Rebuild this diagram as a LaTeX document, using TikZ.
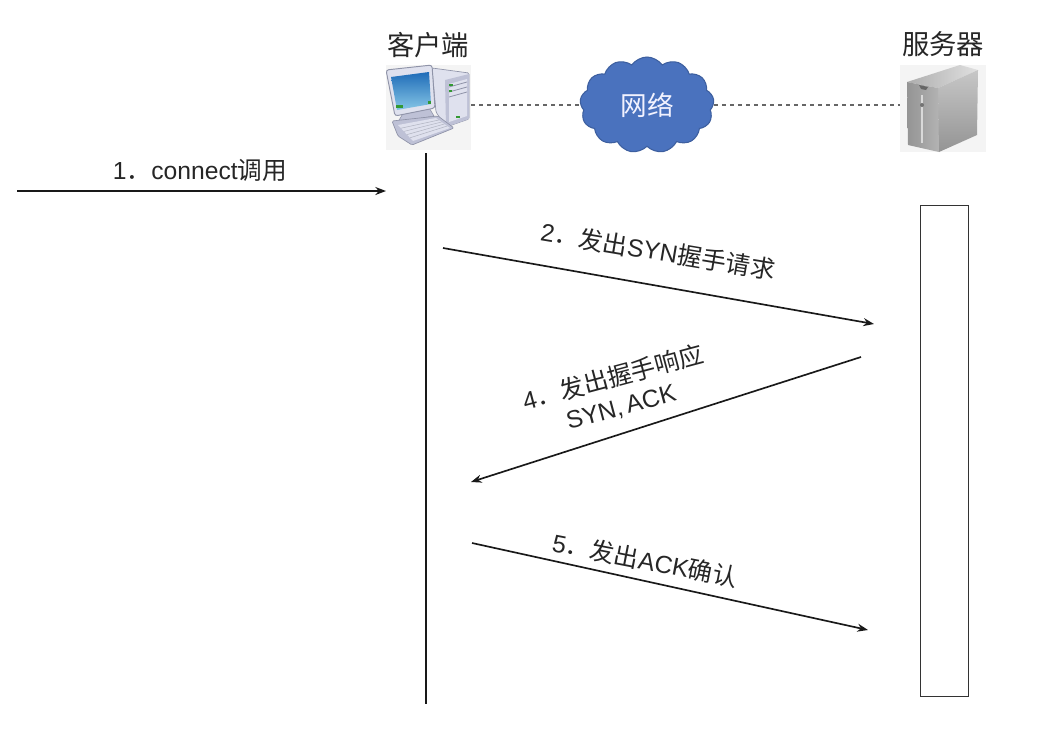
\documentclass[tikz,border=0pt]{standalone}
\usepackage{fontspec}
\setmainfont{Liberation Sans}
\newfontfamily\cjk{Noto Sans CJK SC}
\usetikzlibrary{shapes.symbols,calc,arrows.meta}
\definecolor{cloudblue}{HTML}{4A72BE}
\definecolor{cloudline}{HTML}{3D5F9F}
\definecolor{iconbg}{HTML}{F4F4F4}
\definecolor{caseline}{HTML}{8F93A8}
\definecolor{caselight}{HTML}{DFE1EE}
\definecolor{caseshade}{HTML}{BEC1D6}
\definecolor{screentop}{HTML}{1F6CB8}
\definecolor{screenend}{HTML}{86C6E6}
\begin{document}
\begin{tikzpicture}[x=0.75pt,y=-0.75pt]
    % --- styles ---
    \tikzstyle{msg}=[-{Stealth[length=8pt,width=6pt]}, line width=1.25pt, black!90]
    \tikzstyle{link}=[dashed, line width=1pt, black!60]
    \tikzstyle{title}=[font=\fontsize{20.5}{22}\cjk, text=black!85, inner sep=0pt]
    \tikzstyle{label}=[font=\fontsize{18.5}{22.5}\selectfont, text=black!85, inner sep=0pt, align=center]
    \tikzstyle{iconbox}=[fill=iconbg, draw=none, inner sep=0pt]

    \useasboundingbox (0,0) rectangle (1060,729);

    % ====== client ======
    \node[title] (clienttitle) at (428,45) {客户端};
    \node[iconbox, minimum width=64pt, minimum height=64pt] (client) at (428.5,107.5) {};
    % tower
    \fill[caselight, draw=caseline, line width=0.5pt, rounded corners=1pt] (432,68) -- (469,73) -- (469,119) -- (446,127) -- (436,112) -- cycle;
    \fill[caseshade] (445,80) -- (469,74) -- (469,119) -- (446,127) -- cycle;
    \fill[caselight] (449,84) -- (467,79) -- (467,116) -- (449,122) -- cycle;
    \draw[caseline, line width=0.6pt] (449,87) -- (467,82) (449,92) -- (467,87) (449,97) -- (467,92);
    \fill[green!50!black!80] (449,84) rectangle (453,86);
    \fill[green!50!black!80] (449,90) rectangle (452,92);
    \fill[green!50!black!80] (456,118) rectangle (460,116);
    % monitor
    \fill[caseshade, draw=caseline, line width=0.4pt] (405,110) -- (428,106) -- (434,116) -- (398,122) -- cycle;
    \fill[caselight, draw=caseline, line width=0.7pt, rounded corners=2pt] (386,70) -- (432,65) -- (435,108) -- (395,116) -- cycle;
    \path[top color=screentop, bottom color=screenend] (391,77) -- (429,72) -- (431,104) -- (397,110) -- cycle;
    \fill[green!50!black!80] (396,105) rectangle (403,108);
    \fill[green!50!black!80] (428,101) rectangle (431,104);
    % keyboard
    \fill[caseshade, draw=caseline, line width=0.5pt, rounded corners=1pt] (392,121) -- (438,116) -- (454,128) -- (412,145) -- (398,136) -- cycle;
    \fill[caselight] (398,125) -- (436,118) -- (450,128) -- (413,141) -- cycle;
    \foreach \k in {0.2,0.4,0.6,0.8}
        \draw[caseline!70, line width=0.4pt] ($(398,125)!\k!(413,141)$) -- ($(436,118)!\k!(450,128)$);

    % ====== cloud ======
    \node[cloud, cloud puffs=13, cloud puff arc=110, aspect=1.45, fill=cloudblue, draw=cloudline, line width=0.8pt,
          minimum width=134pt*0.75, minimum height=96pt*0.75, inner sep=0pt, text=white!95!blue,
          font=\fontsize{20}{22}\cjk] (net) at (647,105) {网络};

    % ====== server ======
    \node[title] (servertitle) at (943,44) {服务器};
    \node[iconbox, minimum width=64.5pt, minimum height=65pt] (server) at (943,108.5) {};
    \path[left color=black!32, right color=black!12] (907,82) -- (960,65) -- (978,70) -- (938,88) -- cycle;
    \path[top color=black!22, bottom color=black!42] (938,88) -- (978,70) -- (977,135) -- (939,152) -- cycle;
    \path[left color=black!42, right color=black!30] (907,82) -- (938,88) -- (939,152) -- (908,145) -- cycle;
    \fill[black!60] (919,85) -- (928,87) -- (926,90) -- (921,89) -- cycle;
    \fill[white!85!black] (921,95) rectangle (923,143);
    \fill[black!55] (922,105) circle (2);

    % dashed links
    \draw[link] (client.east |- net.west) -- (net.west);
    \draw[link] (net.east) -- (server.west |- net.east);

    % ====== lifelines ======
    \coordinate (lifetop) at (426,153);
    \coordinate (lifeend) at (426,704);
    \draw[line width=1.25pt, black!90] (lifetop) -- (lifeend);
    \node[draw=black!80, line width=0.7pt, minimum width=36pt, minimum height=368.25pt, inner sep=0pt] (serverbox) at (944,450.5) {};

    % ====== messages ======
    \coordinate (a1) at (17,191);   \coordinate (b1) at (386,191);
    \coordinate (a2) at (443,248);  \coordinate (b2) at (874,324);
    \coordinate (a4) at (861,357);  \coordinate (b4) at (471,482);
    \coordinate (a5) at (472,543);  \coordinate (b5) at (868,630);
    \draw[msg] (a1) -- (b1);
    \draw[msg] (a2) -- (b2);
    \draw[msg] (a4) -- (b4);
    \draw[msg] (a5) -- (b5);

    % labels
    \node[label] (label1) at (200,170) {1{\cjk ．}connect{\cjk 调用}};
    \node[label, rotate=-9.5] (label2) at (658,251) {2{\cjk ．发出}SYN{\cjk 握手请求}};
    \node[label, rotate=15] (label4) at (617,392) {4{\cjk ．发出握手响应}\\SYN,\,ACK};
    \node[label, rotate=-11] (label5) at (645,560) {5{\cjk ．发出}ACK{\cjk 确认}};
\end{tikzpicture}
\end{document}
